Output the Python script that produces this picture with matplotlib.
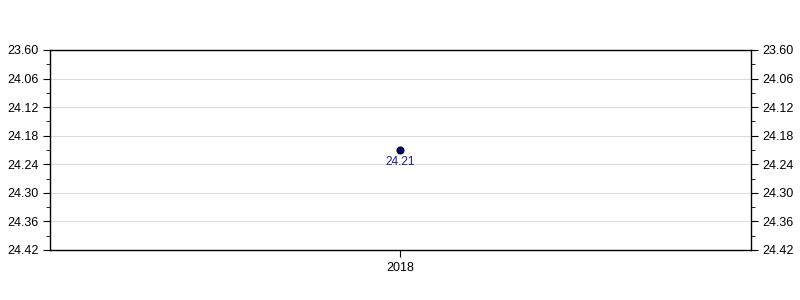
import matplotlib
matplotlib.use('Agg')
import matplotlib.pyplot as plt
from matplotlib.ticker import MultipleLocator

plt.rcParams['font.family'] = ['Liberation Sans', 'DejaVu Sans']

# data
years = [2018]
values = [24.21]
y_ticks = [24.00, 24.06, 24.12, 24.18, 24.24, 24.30, 24.36, 24.42]
y_labels = ['23.60', '24.06', '24.12', '24.18', '24.24', '24.30', '24.36', '24.42']

fig = plt.figure(figsize=(8, 3), dpi=100)
ax = fig.add_axes([0.0625, 0.1667, 0.876, 0.6667])

ax.plot(years, values, 'o', ms=5, mfc='#000080', mec='#000000', mew=0.8, zorder=3)
for x, v in zip(years, values):
    ax.annotate(f'{v:.2f}', (x, v), xytext=(0, -4), textcoords='offset points',
                ha='center', va='top', fontsize=8.5, color='#1a1a99')

ax.set_xlim(years[0] - 1, years[-1] + 1)
ax.set_xticks(years)
ax.set_xticklabels([str(y) for y in years])

ax.set_ylim(y_ticks[-1], y_ticks[0])
ax.set_yticks(y_ticks)
ax.set_yticklabels(y_labels)
ax.yaxis.set_minor_locator(MultipleLocator(0.03))
ax.grid(axis='y', which='major', color='#dddddd', lw=0.8)
ax.set_axisbelow(True)

ax.tick_params(axis='y', which='both', left=True, right=True,
               labelleft=True, labelright=True, direction='out')
ax.tick_params(axis='y', which='major', length=5, labelsize=9)
ax.tick_params(axis='y', which='minor', length=3)
ax.tick_params(axis='x', length=5, labelsize=9)
for s in ax.spines.values():
    s.set_linewidth(1.0)

fig.savefig('out.png', dpi=100)
